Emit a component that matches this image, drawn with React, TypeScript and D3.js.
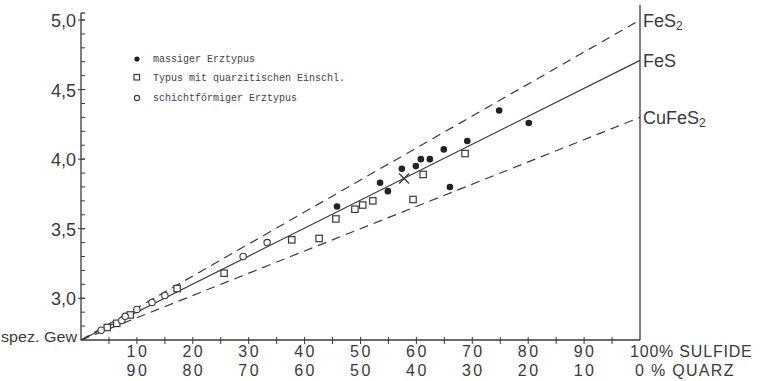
import React from "react";
import * as d3 from "d3";

// sulfide share (%) and specific gravity
const massigSulfide = [45.8, 53.5, 54.9, 57.4, 59.9, 60.8, 62.4, 64.9, 66.0, 69.1, 74.8, 80.1];
const massigDensity = [3.66, 3.83, 3.77, 3.93, 3.95, 4.0, 4.0, 4.07, 3.8, 4.13, 4.35, 4.26];

const quarzitSulfide = [4.7, 6.4, 8.8, 17.2, 25.6, 37.7, 42.6, 45.6, 49.0, 50.4, 52.2, 59.4, 61.2, 68.7];
const quarzitDensity = [2.79, 2.82, 2.88, 3.07, 3.18, 3.42, 3.43, 3.57, 3.64, 3.67, 3.7, 3.71, 3.89, 4.04];

const schichtSulfide = [3.6, 7.3, 7.9, 10.0, 12.7, 15.0, 29.0, 33.3];
const schichtDensity = [2.77, 2.84, 2.87, 2.92, 2.97, 3.02, 3.3, 3.4];

const meanSulfide = [57.8];
const meanDensity = [3.86];

const mineralNames = ["FeS", "FeS", "CuFeS"];
const mineralSubscript = ["2", "", "2"];
const mineralDensity = [5.0, 4.71, 4.3];
const quarzDensity = 2.7;

const yTickValues = [3.0, 3.5, 4.0, 4.5, 5.0];
const yTickLabels = ["3,0", "3,5", "4,0", "4,5", "5,0"];
const xLabelValues = [10, 20, 30, 40, 50, 60, 70, 80, 90];

const legendLabels = [
  "massiger Erztypus",
  "Typus mit quarzitischen Einschl.",
  "schichtförmiger Erztypus",
];

const ink = "#3a3a3a";
const hand = "'Liberation Sans', Arial, sans-serif";
const mono = "'Liberation Mono', 'DejaVu Sans Mono', monospace";

const W = 766;
const H = 381;

export default function App() {
  const x = d3.scaleLinear().domain([0, 100]).range([81, 640]);
  const y = d3.scaleLinear().domain([quarzDensity, 5.0]).range([340, 20]);

  const minorY = d3.range(2.8, 5.001, 0.1);
  const minorX = d3.range(5, 100, 5);
  const lineDash = ["9,6", null, "9,6"];

  const mix = d3
    .line<number[]>()
    .x((d) => x(d[0]))
    .y((d) => y(d[1]));

  const square = (cx: number, cy: number, key: string) => (
    <rect key={key} x={cx - 3.2} y={cy - 3.2} width={6.4} height={6.4} fill="#fff" stroke={ink} strokeWidth={1.2} />
  );

  return (
    <svg width={W} height={H} style={{ position: "absolute", left: 0, top: 0, background: "#fff" }}>
      {/* axes */}
      <line x1={x(0)} x2={x(0)} y1={y(quarzDensity)} y2={13} stroke={ink} strokeWidth={1.3} />
      <line x1={x(0)} x2={x(0) + 4} y1={13} y2={13} stroke={ink} strokeWidth={1.3} />
      <line x1={x(0)} x2={x(100)} y1={y(quarzDensity)} y2={y(quarzDensity)} stroke={ink} strokeWidth={1.4} />
      <line x1={x(100)} x2={x(100)} y1={y(quarzDensity)} y2={5} stroke={ink} strokeWidth={1.3} />

      {minorY.map((v, i) => (
        <line key={"my" + i} x1={x(0)} x2={x(0) + 4} y1={y(v)} y2={y(v)} stroke={ink} strokeWidth={1} />
      ))}
      {yTickValues.map((v, i) => (
        <g key={"yt" + i}>
          <line x1={x(0) - 3} x2={x(0) + 4} y1={y(v)} y2={y(v)} stroke={ink} strokeWidth={1} />
          <text x={x(0) - 5} y={y(v) + 7} textAnchor="end" fontFamily={hand} fontSize={18} fill={ink}>
            {yTickLabels[i]}
          </text>
        </g>
      ))}
      <text x={1} y={342} fontFamily={hand} fontSize={14} fill={ink} textLength={76} lengthAdjust="spacingAndGlyphs">
        spez. Gew
      </text>

      {minorX.map((v, i) => (
        <line key={"mx" + i} x1={x(v)} x2={x(v)} y1={y(quarzDensity) - 3} y2={y(quarzDensity) + 4} stroke={ink} strokeWidth={1} />
      ))}
      {xLabelValues.map((v, i) => (
        <g key={"xl" + i} fontFamily={hand} fontSize={16} fill={ink} textAnchor="middle" letterSpacing={2.5}>
          <text x={x(v) + 1} y={357}>{v}</text>
          <text x={x(v) + 1} y={376}>{100 - v}</text>
        </g>
      ))}
      <text x={x(100) - 10} y={357} fontFamily={hand} fontSize={16} fill={ink} letterSpacing={0.8}>100% SULFIDE</text>
      <text x={x(100) - 5} y={376} fontFamily={hand} fontSize={16} fill={ink} letterSpacing={1.3}>0 % QUARZ</text>

      {/* mixing lines quartz -> mineral */}
      {mineralDensity.map((d, i) => (
        <path
          key={"ml" + i}
          d={mix([[0, quarzDensity], [100, d]]) || ""}
          fill="none"
          stroke={ink}
          strokeWidth={1.2}
          strokeDasharray={lineDash[i] || undefined}
        />
      ))}
      {mineralNames.map((n, i) => (
        <text key={"mn" + i} x={x(100) + 3} y={y(mineralDensity[i]) + 7} fontFamily={hand} fontSize={18} fill={ink}>
          {n}
          {mineralSubscript[i] && (
            <tspan fontSize={12} dy={3}>{mineralSubscript[i]}</tspan>
          )}
        </text>
      ))}

      {/* data */}
      {quarzitSulfide.map((s, i) => square(x(s), y(quarzitDensity[i]), "q" + i))}
      {schichtSulfide.map((s, i) => (
        <circle key={"s" + i} cx={x(s)} cy={y(schichtDensity[i])} r={3.2} fill="#fff" stroke={ink} strokeWidth={1.1} />
      ))}
      {massigSulfide.map((s, i) => (
        <circle key={"m" + i} cx={x(s)} cy={y(massigDensity[i])} r={3.3} fill="#222" />
      ))}
      {meanSulfide.map((s, i) => (
        <g key={"x" + i} stroke={ink} strokeWidth={1.4}>
          <line x1={x(s) - 5} x2={x(s) + 5} y1={y(meanDensity[i]) - 5} y2={y(meanDensity[i]) + 5} />
          <line x1={x(s) - 5} x2={x(s) + 5} y1={y(meanDensity[i]) + 5} y2={y(meanDensity[i]) - 5} />
        </g>
      ))}

      {/* legend */}
      <g fontFamily={mono} fontSize={10} fill="#444">
        <circle cx={137} cy={59} r={2.6} fill="#222" />
        <text x={153} y={62}>{legendLabels[0]}</text>
        <rect x={134} y={74.5} width={5.5} height={5.5} fill="#fff" stroke={ink} strokeWidth={1.2} />
        <text x={153} y={81}>{legendLabels[1]}</text>
        <circle cx={137} cy={98} r={2.6} fill="#fff" stroke={ink} strokeWidth={1.1} />
        <text x={153} y={101}>{legendLabels[2]}</text>
      </g>
    </svg>
  );
}
